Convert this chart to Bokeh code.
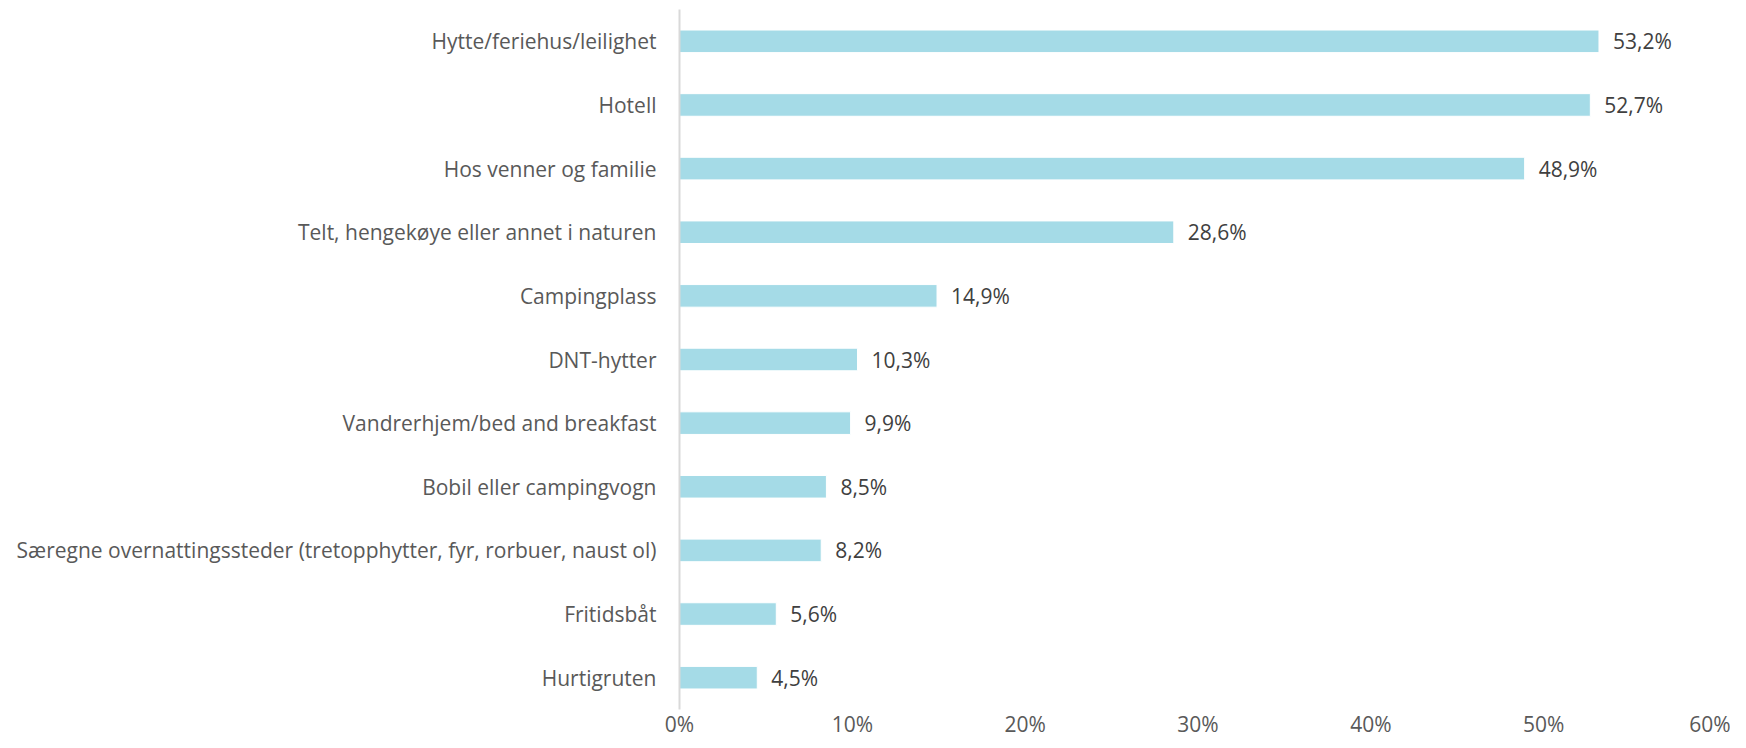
from bokeh.plotting import figure
from bokeh.models import ColumnDataSource, FactorRange, FixedTicker, Range1d, LabelSet
from bokeh.core.properties import value
from bokeh.embed import file_html
from bokeh.resources import INLINE

categories = [
    "Hytte/feriehus/leilighet",
    "Hotell",
    "Hos venner og familie",
    "Telt, hengekøye eller annet i naturen",
    "Campingplass",
    "DNT-hytter",
    "Vandrerhjem/bed and breakfast",
    "Bobil eller campingvogn",
    "Særegne overnattingssteder (tretopphytter, fyr, rorbuer, naust ol)",
    "Fritidsbåt",
    "Hurtigruten",
]
values = [53.2, 52.7, 48.9, 28.6, 14.9, 10.3, 9.9, 8.5, 8.2, 5.6, 4.5]
value_labels = ["53,2%", "52,7%", "48,9%", "28,6%", "14,9%", "10,3%", "9,9%", "8,5%", "8,2%", "5,6%", "4,5%"]
x_ticks = [0, 10, 20, 30, 40, 50, 60]
x_tick_labels = ["0%", "10%", "20%", "30%", "40%", "50%", "60%"]

src = ColumnDataSource(dict(cat=categories, val=values, lab=value_labels))

p = figure(
    width=1730, height=740,
    y_range=FactorRange(*list(reversed(categories)), range_padding=0),
    x_range=Range1d(0, 60),
    output_backend="svg", toolbar_location=None,
    min_border_left=679, min_border_right=14, min_border_top=9, min_border_bottom=30,
)
p.hbar(y="cat", right="val", left=0, height=0.355, source=src,
       fill_color="#a5dbe7", line_color="white", line_width=1)

labels = LabelSet(x="val", y="cat", text="lab", source=src, x_offset=14,
                  text_baseline="middle", text_align="left",
                  text_font=value("Open Sans"), text_font_size="21px", text_color="#404040")
p.add_layout(labels)

p.xgrid.visible = False
p.ygrid.visible = False
p.outline_line_color = None

p.xaxis.ticker = FixedTicker(ticks=x_ticks)
p.xaxis.major_label_overrides = {t: l for t, l in zip(x_ticks, x_tick_labels)}
p.xaxis.axis_line_color = None
p.xaxis.major_tick_line_color = None
p.xaxis.minor_tick_line_color = None
p.xaxis.major_tick_in = 0
p.xaxis.major_tick_out = 0
p.xaxis.major_label_standoff = 0
p.xaxis.major_label_text_font = "Open Sans"
p.xaxis.major_label_text_font_size = "21px"
p.xaxis.major_label_text_color = "#595959"

p.yaxis.axis_line_color = "#d9d9d9"
p.yaxis.axis_line_width = 2
p.yaxis.major_tick_line_color = None
p.yaxis.minor_tick_line_color = None
p.yaxis.major_tick_in = 0
p.yaxis.major_tick_out = 0
p.yaxis.major_label_standoff = 23
p.yaxis.major_label_text_font = "Open Sans"
p.yaxis.major_label_text_font_size = "21px"
p.yaxis.major_label_text_color = "#595959"

open("out.html", "w").write(file_html(p, INLINE))
